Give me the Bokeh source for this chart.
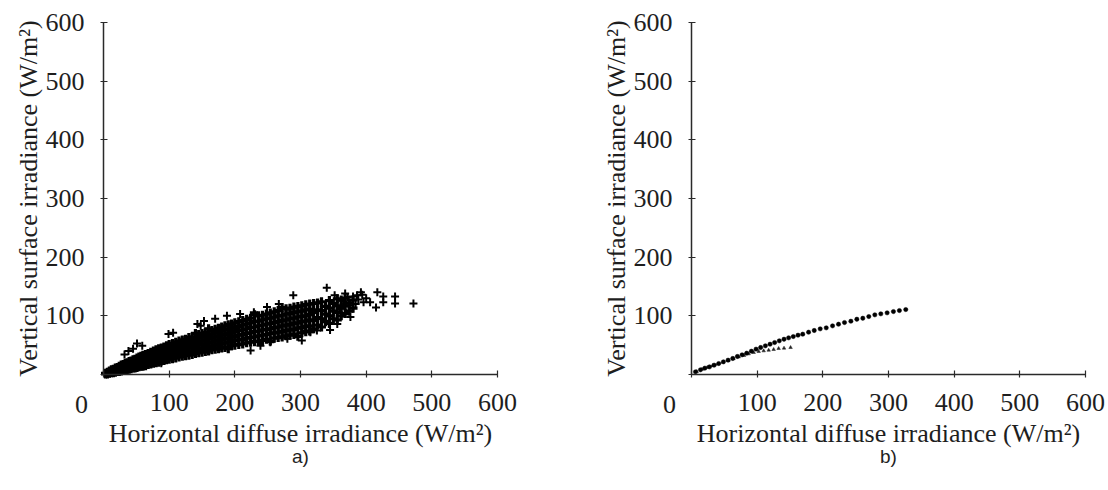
from bokeh.plotting import figure
from bokeh.layouts import row
from bokeh.models import Range1d, FixedTicker, Label, LinearAxis
from bokeh.embed import file_html
from bokeh.resources import INLINE

# ---------------- data ----------------
ticks = [0, 100, 200, 300, 400, 500, 600]
x_title = "Horizontal diffuse irradiance (W/m²)"
y_title = "Vertical surface irradiance (W/m²)"
panel_tags = ["a)", "b)"]

# panel a: dense cloud, read column by column (horizontal value, vertical values)
band_a = [
    (3, [1, 2]), (6, [1, 2, 3, 4]), (9, [2, 3, 5, 6]), (12, [3, 4, 6, 8]),
    (15, [3, 5, 7, 9]), (18, [4, 6, 8, 11]), (21, [5, 7, 9, 12]), (24, [5, 8, 10, 14]),
    (27, [6, 9, 11, 13, 16]), (30, [7, 9, 12, 15, 17]), (33, [7, 10, 13, 16, 19]),
    (36, [8, 11, 14, 17, 20]), (39, [9, 12, 15, 18, 22]), (42, [10, 13, 16, 20, 23]),
    (45, [11, 14, 17, 21, 25]), (48, [11, 15, 18, 22, 26]),
    (51, [12, 15, 19, 22, 25, 28]), (54, [13, 16, 20, 24, 27, 30]),
    (57, [14, 17, 21, 25, 28, 31]), (60, [14, 18, 22, 26, 29, 33]),
    (64, [15, 19, 23, 27, 31, 34]), (68, [17, 21, 24, 28, 33, 36]),
    (72, [18, 22, 26, 30, 34, 38]), (76, [19, 23, 27, 32, 36, 40]),
    (80, [20, 24, 29, 33, 38, 42]), (84, [21, 26, 30, 35, 39, 44]),
    (88, [23, 27, 32, 36, 41, 45]), (92, [24, 28, 33, 38, 43, 47]),
    (96, [25, 30, 34, 40, 44, 49]), (100, [26, 31, 36, 41, 46, 51]),
    (105, [27, 32, 38, 43, 48, 53]), (110, [28, 34, 39, 45, 50, 55]),
    (115, [30, 35, 41, 46, 52, 57]), (120, [31, 36, 42, 48, 53, 59]),
    (125, [32, 38, 44, 49, 55, 60]), (130, [33, 39, 45, 51, 57, 63]),
    (135, [34, 40, 47, 53, 58, 64]), (140, [36, 42, 48, 54, 60, 70]),
    (145, [37, 43, 50, 56, 62, 68]), (150, [38, 44, 51, 57, 64, 70]),
    (155, [39, 46, 52, 59, 66, 72]), (160, [40, 47, 54, 61, 67, 78]),
    (165, [42, 48, 55, 62, 69, 75]), (170, [43, 50, 57, 64, 71, 77]),
    (175, [44, 51, 58, 65, 72, 79]), (180, [45, 52, 60, 67, 74, 81]),
    (185, [46, 54, 61, 68, 76, 83]), (190, [44, 55, 62, 70, 77, 85]),
    (195, [49, 56, 64, 71, 79, 86]), (200, [50, 58, 65, 73, 80, 88]),
    (206, [51, 59, 67, 75, 82, 90]), (212, [52, 60, 68, 76, 84, 92]),
    (218, [54, 62, 70, 78, 86, 94]), (224, [55, 63, 71, 80, 88, 96]),
    (230, [56, 64, 73, 81, 90, 102]), (236, [57, 66, 74, 83, 91, 100]),
    (242, [58, 67, 76, 84, 93, 101]), (248, [60, 68, 77, 86, 95, 103]),
    (254, [57, 70, 78, 87, 96, 105]), (260, [62, 71, 80, 89, 98, 107]),
    (266, [63, 72, 81, 90, 100, 109]), (272, [64, 73, 83, 92, 101, 114]),
    (278, [66, 75, 84, 93, 103, 112]), (284, [67, 76, 85, 95, 104, 113]),
    (290, [68, 77, 87, 96, 106, 115]), (296, [65, 79, 88, 98, 107, 116]),
    (302, [71, 80, 90, 99, 108, 117]), (308, [73, 82, 91, 100, 110, 119]),
    (314, [74, 83, 93, 102, 111, 120]), (320, [78, 92, 106, 121]),
    (326, [84, 97, 110, 122]), (332, [81, 95, 109, 124]), (338, [90, 103, 116]),
    (344, [87, 100, 113, 126]), (350, [95, 108, 121]), (356, [93, 106, 117, 129]),
    (362, [100, 114, 127]), (368, [104, 117, 130]), (374, [108, 122]), (380, [113, 127]),
]
scatter_a_x = [32, 38, 45, 51, 59, 99, 106, 88, 148, 153, 143, 170, 188, 160,
               340, 289, 267, 249, 229, 208, 302, 254, 345, 356, 376, 386, 394, 396,
               325, 315, 280, 239, 224, 472, 444, 444, 417, 426, 426, 415, 406, 365,
               372, 380, 388, 375, 360, 368, 392, 384, 400, 352]
scatter_a_y = [34, 40, 44, 53, 49, 69, 71, 19, 83, 91, 86, 95, 100, 41,
               148, 135, 120, 115, 106, 103, 58, 55, 76, 86, 98, 135, 136, 123,
               75, 72, 61, 49, 41, 121, 133, 121, 140, 133, 123, 114, 123, 125,
               132, 133, 128, 118, 112, 138, 140, 120, 130, 135]

# panel b: two series
dots_b_x = [6.1, 13.7, 20.3, 27.4, 34.5, 41.5, 48.6, 55.7, 62.8, 69.9, 77.0, 84.0,
            91.2, 98.3, 105.3, 112.5, 119.6, 126.6, 133.7, 140.9, 147.9, 155.0, 162.2,
            169.4, 178.3, 186.9, 196.0, 205.2, 214.8, 223.9, 233.0, 242.7, 251.8, 260.9,
            270.0, 279.2, 288.3, 297.9, 307.5, 316.6, 326.3]
dots_b_y = [4.5, 8.0, 10.8, 13.0, 15.9, 18.7, 21.6, 24.4, 27.3, 30.7, 33.5, 36.3,
            39.7, 43.2, 46.0, 48.9, 51.6, 54.5, 57.4, 60.1, 62.5, 64.7, 67.0,
            68.7, 72.1, 75.0, 77.8, 79.5, 82.9, 85.7, 88.6, 90.8, 94.2, 95.9,
            98.8, 101.7, 103.4, 105.1, 107.3, 109.0, 110.7]
tri_b_x = [8, 16, 24, 32, 40, 48, 56, 64, 72, 80, 87.1, 94.7, 102.3, 109.9, 117.5,
           125.1, 132.7, 140.9, 150.9]
tri_b_y = [5, 9, 12, 15, 18, 21, 24, 27, 30, 32.5, 35.2, 37.5, 39.2, 40.3, 41.4,
           42.6, 44.3, 44.9, 46.0]

# ---------------- layout / styling ----------------
SERIF = "Liberation Serif"
TXT = "#1e1e1e"
H = 482
SX = 394 / 600.0   # px per data unit, x
SY = 352 / 600.0   # px per data unit, y
AXIS_TOP = 374     # px of y = 0 from the top


def make_fig(width, axis_px, tag):
    x0 = -axis_px / SX
    x1 = (width - axis_px) / SX
    y0 = -(H - AXIS_TOP) / SY
    y1 = AXIS_TOP / SY
    p = figure(width=width, height=H, x_range=Range1d(x0, x1), y_range=Range1d(y0, y1),
               output_backend="svg", toolbar_location=None,
               x_axis_location=None, y_axis_location=None,
               min_border_left=0, min_border_right=0, min_border_top=0, min_border_bottom=0)
    p.outline_line_color = None
    p.grid.visible = False
    p.background_fill_color = "white"
    xa = LinearAxis(fixed_location=0, bounds=(0, 600), axis_label=x_title)
    ya = LinearAxis(fixed_location=0, bounds=(0, 600), axis_label=y_title)
    for ax in (xa, ya):
        ax.ticker = FixedTicker(ticks=ticks)
        ax.major_label_overrides = {0: ""}
        ax.minor_tick_line_color = None
        ax.major_tick_in = 4
        ax.major_tick_out = 3
        ax.axis_line_width = 1.5
        ax.axis_line_color = "#2a2a2a"
        ax.major_tick_line_color = "#2a2a2a"
        ax.major_tick_line_width = 1.2
        ax.major_label_text_font = SERIF
        ax.major_label_text_font_size = "26px"
        ax.major_label_text_color = TXT
        ax.axis_label_text_font = SERIF
        ax.axis_label_text_font_size = "26px"
        ax.axis_label_text_font_style = "normal"
        ax.axis_label_text_color = TXT
    xa.major_label_standoff = 16
    ya.major_label_standoff = 16
    xa.axis_label_standoff = 5
    ya.axis_label_standoff = 0
    p.add_layout(xa, "below")
    p.add_layout(ya, "left")
    p.add_layout(Label(x=-22 / SX, y=-30 / SY, text="0",
                       text_align="center", text_baseline="middle",
                       text_font=SERIF, text_font_size="26px", text_color=TXT))
    p.add_layout(Label(x=300, y=-82 / SY, text=tag,
                       text_align="center", text_baseline="middle",
                       text_font="Liberation Sans", text_font_size="19px",
                       text_color=TXT))
    return p


pa = make_fig(580, 103, panel_tags[0])
band_x, band_y = [], []
for hx, vys in band_a:
    for vy in vys:
        band_x.append(hx)
        band_y.append(vy)
pa.scatter(band_x, band_y, marker="cross", size=9, line_width=3.2, line_color="black")
pa.scatter(scatter_a_x, scatter_a_y, marker="cross", size=8, line_width=2.0,
           line_color="black")

pb = make_fig(526, 111, panel_tags[1])
pb.scatter(tri_b_x, tri_b_y, marker="triangle", size=3.5, line_color="#222222",
           fill_color="#222222", line_width=0.5)
pb.scatter(dots_b_x, dots_b_y, marker="circle", size=4.3, line_color="black",
           fill_color="black", line_width=0.5)

layout = row(pa, pb)
open("out.html", "w").write(file_html(layout, INLINE))
